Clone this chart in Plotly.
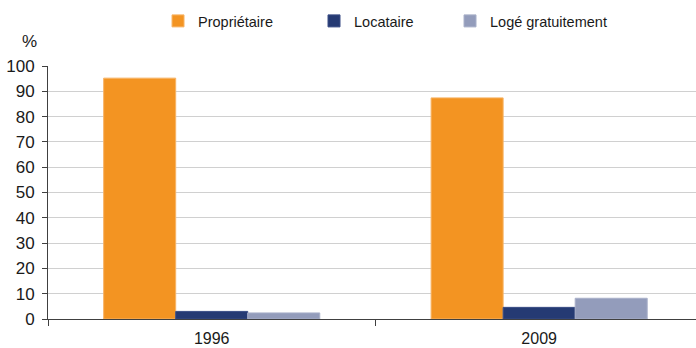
import plotly.graph_objects as go

years = ["1996", "2009"]
proprietaire = [95.2, 87.4]
locataire = [3.0, 4.6]
loge_gratuit = [2.4, 8.2]

font_family = "Liberation Sans, Arial, sans-serif"

fig = go.Figure()
fig.add_trace(go.Bar(x=years, y=proprietaire, name="Propriétaire", legend="legend",
                     showlegend=True,
                     marker=dict(color="#F39422", line=dict(color="#F7B466", width=1))))
fig.add_trace(go.Bar(x=years, y=locataire, name="Locataire", legend="legend2",
                     showlegend=True,
                     marker=dict(color="#253A73", line=dict(color="#3A4D85", width=1))))
fig.add_trace(go.Bar(x=years, y=loge_gratuit, name="Logé gratuitement", legend="legend3",
                     showlegend=True,
                     marker=dict(color="#939CBB", line=dict(color="#A9B0C9", width=1))))

legend_style = dict(orientation="h", xanchor="left", y=1.178, yanchor="middle",
                    font=dict(size=14.5, color="#1a1a1a"), itemwidth=30,
                    bgcolor="rgba(0,0,0,0)")

fig.update_layout(
    width=696, height=348,
    margin=dict(l=48, r=0, t=66, b=29),
    paper_bgcolor="white", plot_bgcolor="white",
    showlegend=True,
    barmode="group", bargap=0.34, bargroupgap=0,
    font=dict(family=font_family, size=17, color="#1a1a1a"),
    legend=dict(x=0.1698, **legend_style),
    legend2=dict(x=0.4105, **legend_style),
    legend3=dict(x=0.6204, **legend_style),
    xaxis=dict(range=[-0.5, 1.479], showline=True, linecolor="#404040", linewidth=1,
               ticks="outside", tickson="boundaries", ticklen=6, tickcolor="#404040",
               showgrid=False, tickfont=dict(size=16), ticklabelstandoff=5,
               automargin=False),
    yaxis=dict(range=[0, 100], dtick=10, showline=True, linecolor="#404040", linewidth=1,
               ticks="outside", ticklen=5, tickcolor="#404040",
               showgrid=True, gridcolor="#D0D0D0", gridwidth=1,
               zeroline=False, tickfont=dict(size=17), ticklabelstandoff=4,
               automargin=False),
    annotations=[dict(text="%", xref="paper", yref="paper", x=-0.029, y=1.096,
                      xanchor="center", yanchor="middle", showarrow=False,
                      font=dict(size=17))],
)

fig.write_html("out.html")
